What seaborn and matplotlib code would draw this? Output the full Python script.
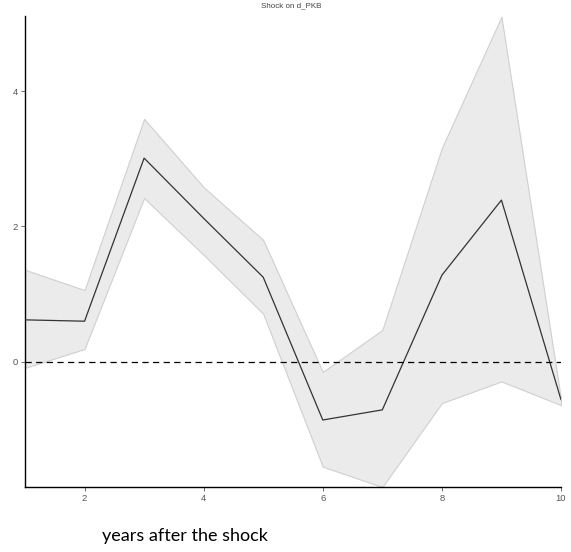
import matplotlib
matplotlib.use("Agg")
import matplotlib.pyplot as plt
import seaborn as sns
import pandas as pd

years = [1, 2, 3, 4, 5, 6, 7, 8, 9, 10]
response = [0.62, 0.60, 3.01, 2.12, 1.25, -0.86, -0.71, 1.28, 2.39, -0.56]
upper = [1.36, 1.06, 3.59, 2.58, 1.80, -0.15, 0.47, 3.16, 5.10, -0.55]
lower = [-0.09, 0.19, 2.42, 1.58, 0.71, -1.55, -1.85, -0.61, -0.29, -0.64]

df = pd.DataFrame({"year": years, "irf": response, "upper": upper, "lower": lower})

sns.set_style("white")
plt.rcParams["font.family"] = ["Liberation Sans", "DejaVu Sans"]
fig = plt.figure(figsize=(5.71, 5.52), dpi=100)
ax = fig.add_axes([25 / 571, 1 - 487 / 552, (561 - 25) / 571, (487 - 16) / 552])

# confidence band, impulse response and zero reference line
ax.fill_between(df["year"], df["lower"], df["upper"], facecolor="#ebebeb",
                edgecolor="#cfcfcf", linewidth=0.8, zorder=1)
sns.lineplot(data=df, x="year", y="irf", ax=ax, color="#333333", linewidth=0.9, zorder=3)
ax.axhline(0, color="black", linestyle=(0, (5, 3.5)), linewidth=0.9, zorder=4)

ax.set_xlim(1, 10)
ax.set_ylim(-1.85, 5.11)
ax.set_xticks([2, 4, 6, 8, 10])
ax.set_yticks([0, 2, 4])
ax.tick_params(axis="both", labelsize=6.8, labelcolor="#555555", color="#555555",
               length=3, width=0.6, pad=2, left=True, bottom=True)
for side in ["top", "right"]:
    ax.spines[side].set_visible(False)
for side in ["left", "bottom"]:
    ax.spines[side].set_color("black")
    ax.spines[side].set_linewidth(1.0)

ax.set_xlabel("")
ax.set_ylabel("")
fig.text(291 / 571, 1 - 6 / 552, "Shock on d_PKB", ha="center", va="center",
         fontsize=5.8, color="#444444")
fig.text(185 / 571, 1 - 536 / 552, "years after the shock", ha="center", va="center",
         fontsize=13, color="black", family=["Lato", "DejaVu Sans"])

fig.savefig("out.png", dpi=100)
